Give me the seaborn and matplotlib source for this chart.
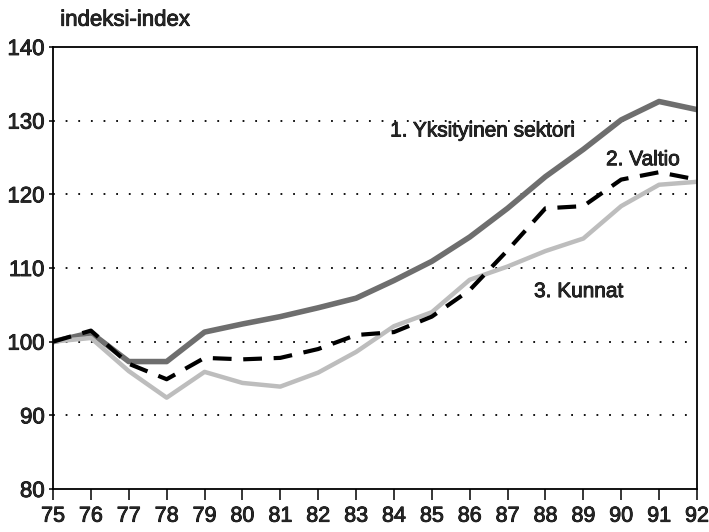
import numpy as np
import pandas as pd
import seaborn as sns
import matplotlib.pyplot as plt
import matplotlib.patheffects as pe

# vuodet ja indeksit (1975 = 100)
years = list(range(75, 93))
yksityinen = [100, 101.2, 97.3, 97.3, 101.3, 102.4, 103.4, 104.6, 105.9, 108.3, 110.9, 114.2, 118.1, 122.4, 126.1, 130.1, 132.6, 131.5]
valtio = [100, 101.5, 97.0, 94.9, 97.8, 97.6, 97.8, 99.0, 100.9, 101.3, 103.4, 107.0, 112.4, 118.1, 118.4, 122.0, 123.0, 122.0]
kunnat = [100, 100.5, 96.0, 92.4, 95.9, 94.4, 93.9, 95.8, 98.6, 102.1, 104.0, 108.4, 110.2, 112.3, 114.0, 118.4, 121.3, 121.7]

labels = ["1. Yksityinen sektori", "2. Valtio", "3. Kunnat"]

sns.set_style("white")
plt.rcParams['font.family'] = ['Liberation Sans', 'DejaVu Sans']

# hieman paksumpi teksti kuin tavallinen
heavy = [pe.withStroke(linewidth=0.6, foreground="black")]

fig = plt.figure(figsize=(7.09, 5.32), dpi=100)
ax = fig.add_axes([0.0748, 0.0808, 0.9082, 0.8309])

df = pd.DataFrame({"vuosi": years, "yks": yksityinen, "val": valtio, "kun": kunnat})

sns.lineplot(data=df, x="vuosi", y="yks", ax=ax, color="#6e6e6e", lw=4)
sns.lineplot(data=df, x="vuosi", y="kun", ax=ax, color="#bdbdbd", lw=3.2)
sns.lineplot(data=df, x="vuosi", y="val", ax=ax, color="black", lw=3)
ax.lines[-1].set_dashes([4.5, 2.8])

ax.set_xlim(75, 92)
ax.set_ylim(80, 140)
ax.set_xticks(years)
ax.set_xticklabels([str(y) for y in years], fontsize=15.5)
ax.set_yticks(range(80, 141, 10))
ax.set_yticklabels([str(v) for v in range(80, 141, 10)], fontsize=16)
for t in ax.get_xticklabels() + ax.get_yticklabels():
    t.set_path_effects(heavy)
ax.set_xlabel("")
ax.set_ylabel("")

for v in range(90, 140, 10):
    ax.axhline(v, color="black", lw=1.3, ls=(0, (1, 6)), zorder=0)

for s in ax.spines.values():
    s.set_color("black")
    s.set_linewidth(1.3)
ax.tick_params(axis="x", direction="out", length=8, width=1.3, pad=4, bottom=True)
ax.tick_params(axis="y", direction="out", length=3, width=1.3, pad=3, left=True)

ax.text(83.9, 128.6, labels[0], fontsize=15, va="center", path_effects=heavy)
ax.text(89.6, 124.7, labels[1], fontsize=15, va="center", path_effects=heavy)
ax.text(87.7, 106.8, labels[2], fontsize=15, va="center", path_effects=heavy)

fig.text(0.085, 0.962, "indeksi-index", fontsize=16, va="center", path_effects=heavy)

fig.savefig("out.png", dpi=100)
